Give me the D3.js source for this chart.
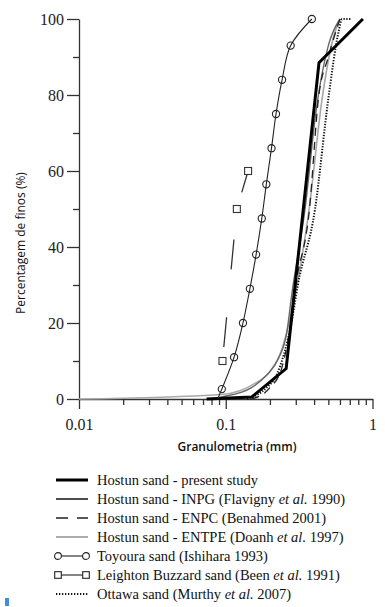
<!DOCTYPE html>
<html>
<head>
<meta charset="utf-8">
<script src="https://cdn.jsdelivr.net/npm/d3@7"></script>
<style>
  body { margin: 0; background: #fff; }
  svg { display: block; }
</style>
</head>
<body>
<div id="chart"></div>
<script>
// grain size (mm) vs percent finer
var presentStudy = [[0.074, 0], [0.15, 0.5], [0.258, 8], [0.432, 88.5], [0.86, 100]];
var inpg = [[0.08, 0], [0.093, 0.5], [0.15, 3], [0.19, 6.3], [0.229, 10.7], [0.26, 17.3], [0.283, 28], [0.347, 50], [0.413, 76], [0.5, 93], [0.6, 100]];
var enpc = [[0.15, 0], [0.2, 3], [0.24, 8], [0.27, 17], [0.3, 30], [0.372, 50], [0.428, 79], [0.5, 90], [0.6, 100]];
var entpe = [[0.01, 0], [0.094, 1.2], [0.158, 4.1], [0.2, 7.2], [0.241, 13], [0.27, 20], [0.37, 50], [0.4535, 79], [0.54, 95], [0.6, 100]];
var toyoura = [[0.088, 0], [0.094, 2.6], [0.114, 11], [0.131, 20], [0.146, 29], [0.161, 38], [0.176, 47.5], [0.189, 56.5], [0.205, 66], [0.22, 75], [0.242, 84], [0.277, 93], [0.386, 100]];
var leighton = [[0.095, 10], [0.119, 50], [0.142, 60]];
var ottawa = [[0.14, 0], [0.19, 3], [0.22, 6], [0.25, 12], [0.28, 20], [0.31, 30], [0.406, 50], [0.5, 79], [0.59, 97], [0.62, 100], [0.72, 100]];

var yMajor = [0, 20, 40, 60, 80, 100];
var yMinor = [10, 30, 50, 70, 90];
var xMajor = [0.01, 0.1, 1];
var xMajorLabels = ['0.01', '0.1', '1'];
var xMinor = [0.02, 0.03, 0.04, 0.05, 0.06, 0.07, 0.08, 0.09, 0.2, 0.3, 0.4, 0.5, 0.6, 0.7, 0.8, 0.9];

var legendNames = [
  ['Hostun sand - present study'],
  ['Hostun sand - INPG (Flavigny ', 'et al.', ' 1990)'],
  ['Hostun sand - ENPC (Benahmed 2001)'],
  ['Hostun sand - ENTPE (Doanh ', 'et al.', ' 1997)'],
  ['Toyoura sand (Ishihara 1993)'],
  ['Leighton Buzzard sand (Been ', 'et al.', ' 1991)'],
  ['Ottawa sand (Murthy ', 'et al.', ' 2007)']
];

var width = 385,
  height = 607;

var svg = d3.select('#chart').append('svg')
  .attr('width', width)
  .attr('height', height);

var x = d3.scaleLog().domain([0.01, 1]).range([79, 372.5]);
var y = d3.scaleLinear().domain([0, 100]).range([399, 19]);

var serif = '"Liberation Serif", "Times New Roman", serif';
var sans = '"Open Sans", "Noto Sans", sans-serif';
var axisColor = '#333';

// y axis
var yAxis = svg.append('g')
  .attr('transform', 'translate(' + x(0.01) + ',0)')
  .call(d3.axisLeft(y).tickValues(yMajor).tickSize(12).tickPadding(3).tickSizeOuter(0));
svg.append('g')
  .attr('transform', 'translate(' + x(0.01) + ',0)')
  .call(d3.axisLeft(y).tickValues(yMinor).tickSize(6).tickFormat('').tickSizeOuter(0))
  .select('.domain').remove();

// x axis
var xAxis = svg.append('g')
  .attr('transform', 'translate(0,' + y(0) + ')')
  .call(d3.axisBottom(x).tickValues(xMajor).tickSize(10).tickSizeOuter(0)
    .tickFormat(function(d, i) { return xMajorLabels[i]; }));
svg.append('g')
  .attr('transform', 'translate(0,' + y(0) + ')')
  .call(d3.axisBottom(x).tickValues(xMinor).tickSize(6).tickFormat('').tickSizeOuter(0))
  .select('.domain').remove();

svg.selectAll('.domain, .tick line')
  .attr('stroke', axisColor)
  .attr('stroke-width', 1.3);

yAxis.selectAll('text')
  .attr('font-family', serif)
  .attr('font-size', 16)
  .attr('fill', '#222');
xAxis.selectAll('text')
  .attr('font-family', serif)
  .attr('font-size', 16)
  .attr('fill', '#222')
  .attr('y', 31)
  .attr('dy', 0);

// axis titles
svg.append('text')
  .attr('transform', 'translate(25,243) rotate(-90)')
  .attr('text-anchor', 'middle')
  .attr('font-family', sans)
  .attr('font-size', 12)
  .attr('fill', '#111')
  .text('Percentagem de finos (%)');

svg.append('text')
  .attr('x', 237)
  .attr('y', 451)
  .attr('text-anchor', 'middle')
  .attr('font-family', sans)
  .attr('font-size', 12)
  .attr('font-weight', 600)
  .attr('fill', '#111')
  .text('Granulometria (mm)');

var line = d3.line()
  .x(function(d) { return x(d[0]); })
  .y(function(d) { return y(d[1]); });

var smooth = d3.line()
  .x(function(d) { return x(d[0]); })
  .y(function(d) { return y(d[1]); })
  .curve(d3.curveMonotoneX);

var plot = svg.append('g');

plot.append('path').datum(entpe)
  .attr('d', smooth).attr('fill', 'none')
  .attr('stroke', '#a8a8a8').attr('stroke-width', 1.6);

plot.append('path').datum(inpg)
  .attr('d', smooth).attr('fill', 'none')
  .attr('stroke', '#666').attr('stroke-width', 1.4);

plot.append('path').datum(enpc)
  .attr('d', smooth).attr('fill', 'none')
  .attr('stroke', '#222').attr('stroke-width', 1.3)
  .attr('stroke-dasharray', '8,6');

plot.append('path').datum(ottawa)
  .attr('d', smooth).attr('fill', 'none')
  .attr('stroke', '#111').attr('stroke-width', 2)
  .attr('stroke-dasharray', '1.3,1.5');

plot.append('path').datum(presentStudy)
  .attr('d', line).attr('fill', 'none')
  .attr('stroke', '#000').attr('stroke-width', 3)
  .attr('stroke-linejoin', 'miter');

// Leighton Buzzard
plot.append('path').datum(leighton)
  .attr('d', line).attr('fill', 'none')
  .attr('stroke', '#333').attr('stroke-width', 1.3)
  .attr('stroke-dasharray', '0,14,30,34');
plot.selectAll('.sq').data(leighton)
  .enter().append('rect').classed('sq', true)
  .attr('x', function(d) { return x(d[0]) - 3.5; })
  .attr('y', function(d) { return y(d[1]) - 3.5; })
  .attr('width', 7).attr('height', 7)
  .attr('fill', '#fff').attr('stroke', '#333').attr('stroke-width', 1.1);

// Toyoura
plot.append('path').datum(toyoura)
  .attr('d', d3.line().x(function(d) { return x(d[0]); }).y(function(d) { return y(d[1]); }).curve(d3.curveCatmullRom))
  .attr('fill', 'none')
  .attr('stroke', '#222').attr('stroke-width', 1.1);
plot.selectAll('.circ').data(toyoura.filter(function(d) { return d[1] > 0; }))
  .enter().append('circle').classed('circ', true)
  .attr('cx', function(d) { return x(d[0]); })
  .attr('cy', function(d) { return y(d[1]); })
  .attr('r', 3.6)
  .attr('fill', 'none').attr('stroke', '#222').attr('stroke-width', 1.1);

// legend
var legendStyles = [
  { w: 3, c: '#000', dash: null },
  { w: 1.6, c: '#222', dash: null },
  { w: 1.5, c: '#222', dash: '12,9' },
  { w: 1.4, c: '#888', dash: null },
  { w: 1.1, c: '#222', dash: null, mark: 'circle' },
  { w: 1.1, c: '#222', dash: null, mark: 'square' },
  { w: 1.8, c: '#111', dash: '1.3,1.7' }
];

var legend = svg.append('g').attr('transform', 'translate(0,480)');
var rows = legend.selectAll('.row').data(legendNames)
  .enter().append('g').classed('row', true)
  .attr('transform', function(d, i) { return 'translate(0,' + (i * 19) + ')'; });

rows.append('line')
  .attr('x1', 56).attr('x2', 88).attr('y1', 0).attr('y2', 0)
  .attr('stroke', function(d, i) { return legendStyles[i].c; })
  .attr('stroke-width', function(d, i) { return legendStyles[i].w; })
  .attr('stroke-dasharray', function(d, i) { return legendStyles[i].dash; });

rows.filter(function(d, i) { return legendStyles[i].mark == 'circle'; })
  .selectAll('circle').data([58, 86]).enter().append('circle')
  .attr('cx', function(d) { return d; }).attr('cy', 0).attr('r', 3.4)
  .attr('fill', '#fff').attr('stroke', '#222').attr('stroke-width', 1.1);

rows.filter(function(d, i) { return legendStyles[i].mark == 'square'; })
  .selectAll('rect').data([58, 86]).enter().append('rect')
  .attr('x', function(d) { return d - 3.3; }).attr('y', -3.3)
  .attr('width', 6.6).attr('height', 6.6)
  .attr('fill', '#fff').attr('stroke', '#222').attr('stroke-width', 1.1);

var txt = rows.append('text')
  .attr('x', 97).attr('y', 5)
  .attr('font-family', serif)
  .attr('font-size', 14.5)
  .attr('fill', '#111');
txt.selectAll('tspan').data(function(d) { return d; })
  .enter().append('tspan')
  .attr('font-style', function(d, i) { return i == 1 ? 'italic' : 'normal'; })
  .text(function(d) { return d; });

// small blue mark in the corner of the source image
svg.append('rect')
  .attr('x', 5).attr('y', 598).attr('width', 4).attr('height', 8)
  .attr('fill', '#3d8fe0');
</script>
</body>
</html>
